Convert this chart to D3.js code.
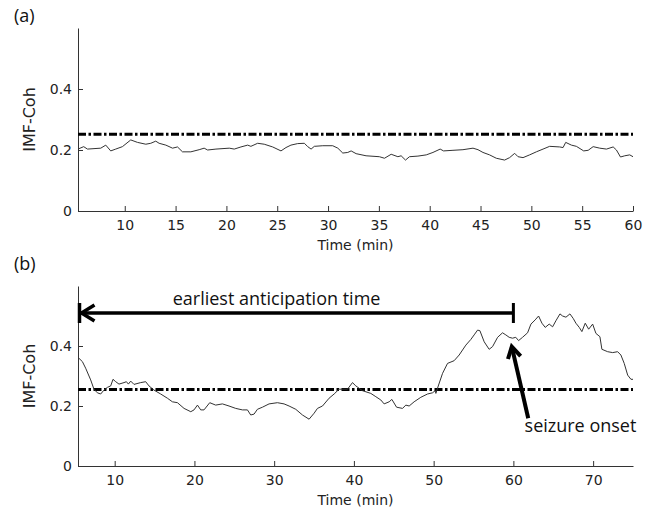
<!DOCTYPE html>
<html lang="en">
<head>
    <meta charset="UTF-8">
    <title>IMF-Coh</title>
    <style>
        body { margin: 0; background: #fff; }
        .tick text { font-family: "DejaVu Sans", sans-serif; font-size: 14px; fill: #222; }
        .tick line, .domain { stroke: #333; }
        .note { font-family: "Open Sans", sans-serif; font-size: 18px; fill: #111; }
    </style>
</head>
<body>

    <div id="graphique"></div>

    <script src="https://d3js.org/d3.v7.min.js"></script>

    <script>

// (a) interictal recording
let timeA = [5.4, 5.96, 6.33, 7.64, 8.13, 8.62, 9.11, 9.77, 10.59, 11.25, 12.07, 12.56, 13.05, 13.38, 14.04,
             14.7, 15.19, 15.68, 16.5, 17.32, 17.81, 18.15, 18.97, 20.28, 20.77, 21.43, 22.09, 22.41, 23.07,
             23.72, 24.55, 25.37, 25.86, 26.35, 27.01, 27.67, 28.0, 28.33, 28.65, 29.48, 30.46, 30.96, 31.45,
             31.94, 32.27, 32.76, 33.74, 35.05, 35.55, 36.21, 36.87, 37.19, 37.62, 38.01, 38.84, 39.66, 40.32,
             41.03, 41.36, 42.29, 43.27, 44.26, 44.75, 45.24, 45.89, 46.55, 47.37, 47.86, 48.36, 48.69, 49.18,
             49.83, 50.49, 51.15, 51.8, 52.79, 53.12, 53.38, 53.94, 54.43, 55.15, 55.59, 56.08, 56.73, 57.39,
             58.05, 58.37, 58.77, 59.19, 59.68, 60.0]
let cohA  = [0.203, 0.211, 0.203, 0.206, 0.216, 0.197, 0.203, 0.211, 0.233, 0.225, 0.219, 0.222, 0.229, 0.222, 0.216,
             0.206, 0.210, 0.194, 0.194, 0.201, 0.206, 0.200, 0.203, 0.206, 0.203, 0.210, 0.216, 0.212, 0.222,
             0.219, 0.210, 0.197, 0.208, 0.216, 0.221, 0.222, 0.211, 0.203, 0.212, 0.214, 0.214, 0.206, 0.190,
             0.192, 0.197, 0.188, 0.181, 0.178, 0.173, 0.186, 0.178, 0.181, 0.167, 0.178, 0.180, 0.184, 0.192,
             0.203, 0.197, 0.199, 0.201, 0.206, 0.201, 0.192, 0.184, 0.173, 0.167, 0.175, 0.189, 0.178, 0.175,
             0.184, 0.194, 0.203, 0.212, 0.210, 0.208, 0.225, 0.216, 0.212, 0.197, 0.199, 0.211, 0.206, 0.203,
             0.210, 0.200, 0.177, 0.181, 0.184, 0.178]
let thresholdA = 0.252

// (b) preictal recording
let timeB = [5.4, 5.95, 6.36, 6.99, 7.4, 7.83, 8.24, 8.66, 9.08, 9.5, 9.79, 10.13, 10.54, 11.17, 11.47, 11.72,
             12.01, 12.42, 13.26, 13.89, 14.3, 14.93, 15.77, 16.61, 17.24, 17.87, 18.7, 19.54, 19.95, 20.38,
             20.79, 21.2, 21.92, 22.67, 23.51, 24.34, 25.18, 26.02, 26.65, 27.06, 27.48, 27.9, 28.53, 29.36,
             30.41, 31.24, 31.87, 32.71, 33.55, 34.38, 35.01, 35.43, 36.06, 36.89, 37.52, 38.14, 39.2, 39.82,
             40.24, 41.08, 42.12, 42.75, 43.38, 43.79, 44.42, 44.76, 45.35, 46.1, 46.51, 46.93, 47.55, 48.39,
             49.23, 49.86, 50.19, 50.28, 50.62, 51.12, 51.74, 52.57, 53.2, 54.04, 54.67, 55.08, 55.51, 55.8,
             56.34, 56.96, 57.39, 58.02, 58.64, 59.05, 59.47, 59.89, 60.3, 60.65, 61.15, 61.78, 62.2, 62.73,
             63.16, 63.58, 63.99, 64.49, 64.92, 65.33, 65.84, 66.17, 66.59, 67.09, 67.5, 67.84, 68.26, 68.59,
             69.01, 69.44, 69.94, 70.35, 70.85, 71.1, 71.82, 72.45, 73.07, 73.48, 73.9, 74.33, 74.74, 75.0]
let cohB  = [0.362, 0.348, 0.326, 0.287, 0.256, 0.244, 0.240, 0.253, 0.262, 0.267, 0.289, 0.281, 0.273, 0.278, 0.281, 0.273,
             0.283, 0.272, 0.278, 0.281, 0.267, 0.253, 0.240, 0.226, 0.214, 0.211, 0.192, 0.181, 0.187, 0.203,
             0.187, 0.187, 0.211, 0.203, 0.207, 0.200, 0.192, 0.187, 0.187, 0.170, 0.173, 0.189, 0.196, 0.207,
             0.211, 0.207, 0.200, 0.189, 0.170, 0.156, 0.176, 0.192, 0.200, 0.226, 0.240, 0.256, 0.256, 0.278,
             0.267, 0.251, 0.242, 0.231, 0.220, 0.207, 0.214, 0.222, 0.196, 0.192, 0.203, 0.200, 0.214, 0.229,
             0.240, 0.244, 0.251, 0.242, 0.270, 0.309, 0.342, 0.351, 0.370, 0.403, 0.422, 0.437, 0.453, 0.451,
             0.414, 0.389, 0.398, 0.429, 0.444, 0.437, 0.429, 0.426, 0.429, 0.418, 0.429, 0.444, 0.473, 0.487,
             0.500, 0.476, 0.462, 0.473, 0.464, 0.484, 0.507, 0.500, 0.496, 0.507, 0.492, 0.476, 0.462, 0.448,
             0.476, 0.456, 0.473, 0.442, 0.431, 0.389, 0.381, 0.378, 0.381, 0.370, 0.342, 0.303, 0.289, 0.289]
let thresholdB = 0.255

let ticksXA = [10, 15, 20, 25, 30, 35, 40, 45, 50, 55, 60]
let ticksXB = [10, 20, 30, 40, 50, 60, 70]
let ticksY  = [0, 0.2, 0.4]

let anticipation = { start: 5.4, end: 60, level: 0.51, labelAt: 30.3, labelLevel: 0.537 }
let onset = { tipT: 59.8, tipV: 0.398, tailT: 61.86, tailV: 0.159, labelT: 61.4, labelV: 0.113 }


let svg = d3.select('#graphique')
            .append('svg')
            .attr('width', 652)
            .attr('height', 511)

let left = 78, right = 633

function panel(top, bottom, times, values, maxT, xTicks, threshold, tag, tagY) {

    let x = d3.scaleLinear().domain([5.4, maxT]).range([left, right])
    let y = d3.scaleLinear().domain([0, 0.6]).range([bottom, top])

    // axes, MATLAB style ticks pointing inside
    svg.append('g')
       .attr('transform', `translate(0, ${bottom})`)
       .call(d3.axisBottom(x).tickValues(xTicks).tickSizeInner(-5).tickSizeOuter(0).tickPadding(9))

    svg.append('g')
       .attr('transform', `translate(${left}, 0)`)
       .call(d3.axisLeft(y).tickValues(ticksY).tickFormat(d3.format('~g')).tickSizeInner(-5).tickSizeOuter(0).tickPadding(6))

    svg.append('text')
       .attr('x', (left + right) / 2)
       .attr('y', bottom + 39)
       .attr('text-anchor', 'middle')
       .style('font-family', '"DejaVu Sans", sans-serif')
       .style('font-size', '14px')
       .attr('fill', '#222')
       .text('Time (min)')

    svg.append('text')
       .attr('transform', `translate(35, ${(top + bottom) / 2}) rotate(-90)`)
       .attr('text-anchor', 'middle')
       .style('font-family', '"DejaVu Sans", sans-serif')
       .style('font-size', '16px')
       .attr('fill', '#222')
       .text('IMF-Coh')

    svg.append('text')
       .attr('class', 'note')
       .attr('x', 14)
       .attr('y', tagY)
       .text(tag)

    // threshold
    svg.append('line')
       .attr('x1', x(5.4))
       .attr('x2', x(maxT))
       .attr('y1', y(threshold))
       .attr('y2', y(threshold))
       .attr('stroke', '#000')
       .attr('stroke-width', 3)
       .attr('stroke-dasharray', '8,2.5,2.5,2.5')

    // coherence curve
    svg.append('path')
       .datum(times.map((t, i) => [t, values[i]]))
       .attr('fill', 'none')
       .attr('stroke', '#333')
       .attr('stroke-width', 1)
       .attr('d', d3.line()
                    .x(d => x(d[0]))
                    .y(d => y(d[1])))

    return { x: x, y: y }
}

panel(28, 211, timeA, cohA, 60, ticksXA, thresholdA, '(a)', 22)
let b = panel(286, 466, timeB, cohB, 75, ticksXB, thresholdB, '(b)', 270)


// earliest anticipation time
let ay = b.y(anticipation.level)
let ax0 = b.x(anticipation.start) + 1.5
let ax1 = b.x(anticipation.end)

svg.append('line')
   .attr('x1', ax0).attr('x2', ax1)
   .attr('y1', ay).attr('y2', ay)
   .attr('stroke', '#000').attr('stroke-width', 3.5)

svg.append('line')
   .attr('x1', ax0).attr('x2', ax0)
   .attr('y1', ay - 10).attr('y2', ay + 10)
   .attr('stroke', '#000').attr('stroke-width', 3.5)

svg.append('line')
   .attr('x1', ax1).attr('x2', ax1)
   .attr('y1', ay - 10).attr('y2', ay + 10)
   .attr('stroke', '#000').attr('stroke-width', 3)

svg.append('path')
   .attr('d', `M${ax0 + 15},${ay - 8} L${ax0 + 2},${ay} L${ax0 + 15},${ay + 8}`)
   .attr('fill', 'none')
   .attr('stroke', '#000').attr('stroke-width', 3.5)

svg.append('text')
   .attr('class', 'note')
   .attr('x', b.x(anticipation.labelAt))
   .attr('y', b.y(anticipation.labelLevel))
   .attr('text-anchor', 'middle')
   .text('earliest anticipation time')


// seizure onset
let tx = b.x(onset.tipT), ty = b.y(onset.tipV)
let sx = b.x(onset.tailT), sy = b.y(onset.tailV)
let len = Math.hypot(sx - tx, sy - ty)
let ux = (sx - tx) / len, uy = (sy - ty) / len
let head = 13, ang = Math.PI / 6

let barb = s => [tx + head * (ux * Math.cos(s * ang) - uy * Math.sin(s * ang)),
                 ty + head * (ux * Math.sin(s * ang) + uy * Math.cos(s * ang))]

svg.append('line')
   .attr('x1', sx).attr('y1', sy)
   .attr('x2', tx).attr('y2', ty)
   .attr('stroke', '#000').attr('stroke-width', 4)

svg.append('path')
   .attr('d', `M${barb(1)} L${tx},${ty} L${barb(-1)}`)
   .attr('fill', 'none')
   .attr('stroke', '#000').attr('stroke-width', 4)

svg.append('text')
   .attr('class', 'note')
   .attr('x', b.x(onset.labelT))
   .attr('y', b.y(onset.labelV))
   .text('seizure onset')

    </script>
</body>
</html>
